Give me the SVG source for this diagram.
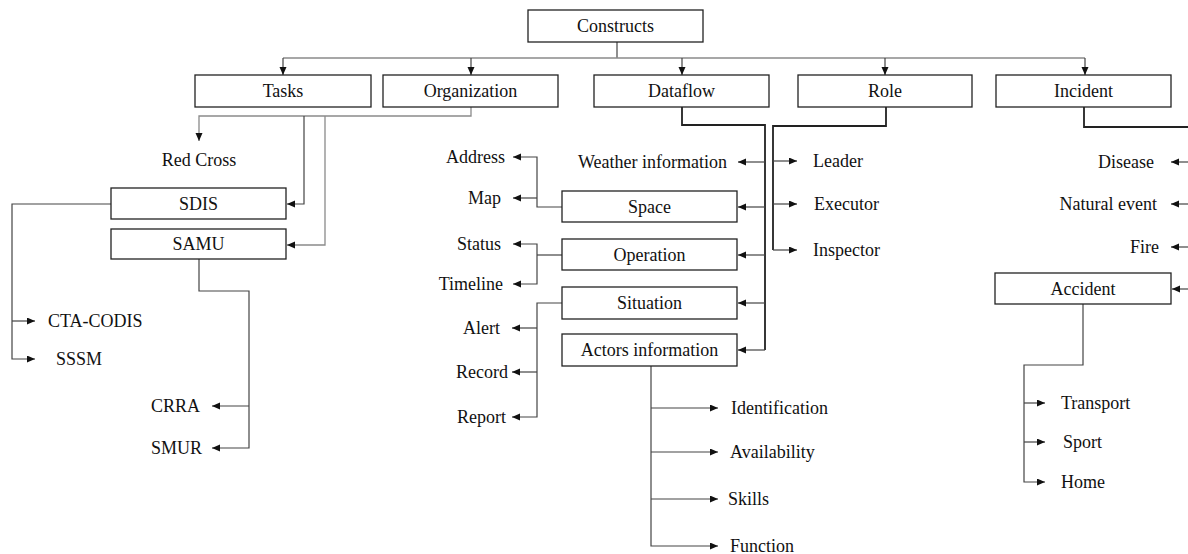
<svg xmlns="http://www.w3.org/2000/svg" width="1188" height="554" viewBox="0 0 1188 554">
<style>
.box{fill:#fff;stroke:#222;stroke-width:1.3}
.t{font-family:"Liberation Serif","Times New Roman",serif;font-size:18px;fill:#111}
.c{text-anchor:middle}
.e{text-anchor:end}
.ln{fill:none;stroke:#444;stroke-width:1.2}
.lg{fill:none;stroke:#8a8a8a;stroke-width:1.3}
.lk{fill:none;stroke:#222;stroke-width:1.8}
.a{marker-end:url(#ah)}
</style>
<defs>
<marker id="ah" markerUnits="userSpaceOnUse" markerWidth="9" markerHeight="8" refX="8" refY="3.5" orient="auto">
<path d="M0,0 L8,3.5 L0,7 z" fill="#111"/>
</marker>
</defs>
<g id="connectors">
<path class="ln" d="M617,42 V58"/>
<path class="lg" d="M283,58 H1085"/>
<path class="ln a" d="M283,58 V75"/>
<path class="ln a" d="M471,58 V75"/>
<path class="ln a" d="M682,58 V75"/>
<path class="ln a" d="M885,58 V75"/>
<path class="ln a" d="M1085,58 V75"/>
<path class="lg a" d="M471,107 V116 H199 V141"/>
<path class="ln a" d="M304,116 V204 H287"/>
<path class="lg a" d="M325,116 V245 H287"/>
<path class="ln a" d="M111,204 H12 V359 H35"/>
<path class="ln a" d="M12,321 H35"/>
<path class="ln a" d="M199,259 V291 H249 V448 H212"/>
<path class="ln a" d="M249,406 H212"/>
<path class="lk" d="M682,107 V125 H765 V350"/>
<path class="ln a" d="M765,350 H738"/>
<path class="ln a" d="M765,162 H738"/>
<path class="ln a" d="M765,207 H738"/>
<path class="ln a" d="M765,255 H738"/>
<path class="ln a" d="M765,303 H738"/>
<path class="lk" d="M886,107 V126 H773 V250"/>
<path class="ln a" d="M773,250 H797"/>
<path class="ln a" d="M773,161 H797"/>
<path class="ln a" d="M773,204 H797"/>
<path class="ln a" d="M562,207 H537 V157 H513"/>
<path class="ln a" d="M537,198 H513"/>
<path class="ln" d="M562,255 H537"/>
<path class="ln a" d="M537,255 V244 H513"/>
<path class="ln a" d="M537,255 V284 H513"/>
<path class="ln a" d="M562,303 H537 V417 H512"/>
<path class="ln a" d="M537,328 H512"/>
<path class="ln a" d="M537,372 H512"/>
<path class="ln a" d="M651,366 V546 H718"/>
<path class="ln a" d="M651,408 H718"/>
<path class="ln a" d="M651,452 H718"/>
<path class="ln a" d="M651,499 H718"/>
<path class="lk" d="M1084,107 V127 H1188"/>
<path class="ln a" d="M1188,162 H1171"/>
<path class="ln a" d="M1188,204 H1171"/>
<path class="ln a" d="M1188,247 H1171"/>
<path class="ln a" d="M1188,289 H1172"/>
<path class="ln a" d="M1083,304 V365 H1024 V482 H1045"/>
<path class="ln a" d="M1024,403 H1045"/>
<path class="ln a" d="M1024,442 H1045"/>
</g>
<g id="constructs"><rect class="box" x="528" y="10" width="175" height="32"/><text class="t c" x="615.5" y="32">Constructs</text></g>
<g id="tasks"><rect class="box" x="195" y="75" width="176" height="32"/><text class="t c" x="283" y="97">Tasks</text></g>
<g id="organization"><rect class="box" x="383" y="75" width="175" height="32"/><text class="t c" x="470.5" y="97">Organization</text></g>
<g id="dataflow"><rect class="box" x="594" y="75" width="175" height="32"/><text class="t c" x="681.5" y="97">Dataflow</text></g>
<g id="role"><rect class="box" x="798" y="75" width="174" height="32"/><text class="t c" x="885" y="97">Role</text></g>
<g id="incident"><rect class="box" x="996" y="75" width="175" height="32"/><text class="t c" x="1083.5" y="97">Incident</text></g>
<g id="redcross"><text class="t c" x="199" y="166">Red Cross</text></g>
<g id="sdis"><rect class="box" x="111" y="188" width="175" height="31"/><text class="t c" x="198.5" y="210">SDIS</text></g>
<g id="samu"><rect class="box" x="111" y="229" width="175" height="30"/><text class="t c" x="198.5" y="250">SAMU</text></g>
<g id="ctacodis"><text class="t" x="48" y="327">CTA-CODIS</text></g>
<g id="sssm"><text class="t" x="56" y="365">SSSM</text></g>
<g id="crra"><text class="t e" x="200" y="412">CRRA</text></g>
<g id="smur"><text class="t e" x="202" y="454">SMUR</text></g>
<g id="address"><text class="t e" x="505" y="163">Address</text></g>
<g id="map"><text class="t e" x="501" y="204">Map</text></g>
<g id="status"><text class="t e" x="501" y="250">Status</text></g>
<g id="timeline"><text class="t e" x="503" y="290">Timeline</text></g>
<g id="alert"><text class="t e" x="500" y="334">Alert</text></g>
<g id="record"><text class="t e" x="508" y="378">Record</text></g>
<g id="report"><text class="t e" x="506" y="423">Report</text></g>
<g id="weather"><text class="t e" x="727" y="168">Weather information</text></g>
<g id="space"><rect class="box" x="562" y="191" width="175" height="31"/><text class="t c" x="649.5" y="213">Space</text></g>
<g id="operation"><rect class="box" x="562" y="239" width="175" height="31"/><text class="t c" x="649.5" y="261">Operation</text></g>
<g id="situation"><rect class="box" x="562" y="287" width="175" height="32"/><text class="t c" x="649.5" y="309">Situation</text></g>
<g id="actors"><rect class="box" x="562" y="334" width="175" height="32"/><text class="t c" x="649.5" y="356">Actors information</text></g>
<g id="leader"><text class="t" x="813" y="167">Leader</text></g>
<g id="executor"><text class="t" x="814" y="210">Executor</text></g>
<g id="inspector"><text class="t" x="813" y="256">Inspector</text></g>
<g id="identification"><text class="t" x="731" y="414">Identification</text></g>
<g id="availability"><text class="t" x="730" y="458">Availability</text></g>
<g id="skills"><text class="t" x="728" y="505">Skills</text></g>
<g id="function"><text class="t" x="730" y="552">Function</text></g>
<g id="disease"><text class="t e" x="1154" y="168">Disease</text></g>
<g id="naturalevent"><text class="t e" x="1157" y="210">Natural event</text></g>
<g id="fire"><text class="t e" x="1159" y="253">Fire</text></g>
<g id="accident"><rect class="box" x="995" y="273" width="176" height="31"/><text class="t c" x="1083" y="295">Accident</text></g>
<g id="transport"><text class="t" x="1061" y="409">Transport</text></g>
<g id="sport"><text class="t" x="1063" y="448">Sport</text></g>
<g id="home"><text class="t" x="1061" y="488">Home</text></g>
</svg>
